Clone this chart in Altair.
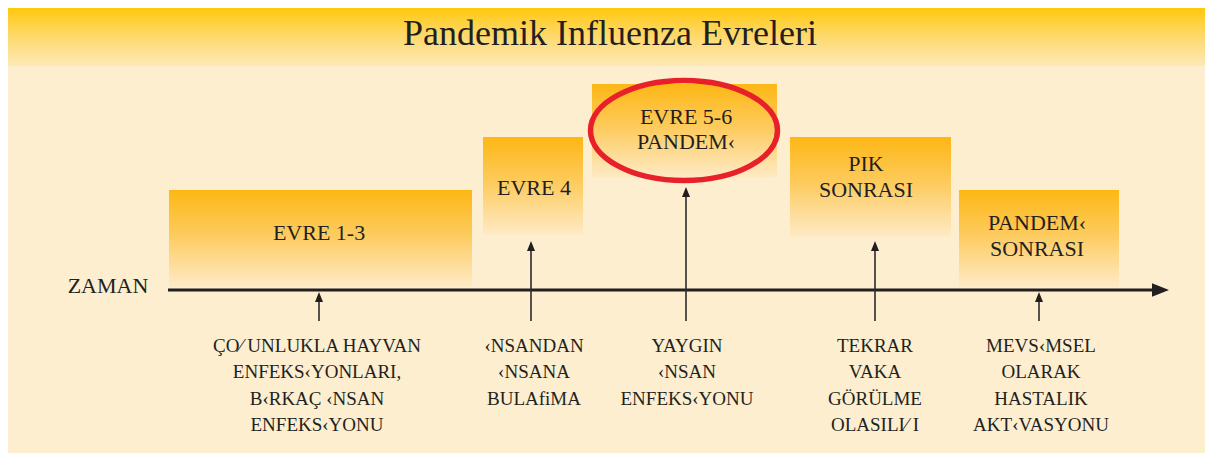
import altair as alt
import pandas as pd

# ---------------- content ----------------
TITLE = "Pandemik Influenza Evreleri"
AXIS_LABEL = "ZAMAN"
phase_labels = [
    "EVRE 1-3",
    "EVRE 4",
    "EVRE 5-6\nPANDEM‹",
    "PIK\nSONRASI",
    "PANDEM‹\nSONRASI",
]
phase_descriptions = [
    "ÇO⁄ UNLUKLA HAYVAN\nENFEKS‹YONLARI,\nB‹RKAÇ ‹NSAN\nENFEKS‹YONU",
    "‹NSANDAN\n‹NSANA\nBULAfiMA",
    "YAYGIN\n‹NSAN\nENFEKS‹YONU",
    "TEKRAR\nVAKA\nGÖRÜLME\nOLASILI⁄ I",
    "MEVS‹MSEL\nOLARAK\nHASTALIK\nAKT‹VASYONU",
]
highlighted_phase = 2

# ---------------- layout (pixel positions of the diagram) ----------------
box_x0 = [169, 483, 592, 790, 959]
box_x1 = [472, 583, 777, 951, 1119]
box_y0 = [190, 137, 84, 137, 190]
box_y1 = [287, 235, 178, 237, 287]
label_cx = [319, 534, 686, 866, 1037]
label_cy = [233, 188, 117, 164, 223]
label_step = 26
arrow_x = [319, 531, 686, 875, 1039]
arrow_tip = [292, 241, 187, 241, 292]
arrow_base = 321
desc_cx = [317, 534, 687, 875, 1041]
desc_y0 = 346
desc_step = 26.3
axis_y = 290
axis_x0, axis_x1 = 168, 1169

BG = "#FDEED0"
INK = "#231F20"
FONT = "Liberation Serif"

xs = alt.Scale(domain=[8, 1205], nice=False, zero=False)
ys = alt.Scale(domain=[453, 8], nice=False, zero=False)


def X(f="x"):
    return alt.X(f"{f}:Q", scale=xs, axis=None)


def Y(f="y"):
    return alt.Y(f"{f}:Q", scale=ys, axis=None)


# header band
header_df = pd.DataFrame({"x": [8], "x2": [1205], "y": [8], "y2": [66]})
header = alt.Chart(header_df).mark_rect(
    color=alt.Gradient(
        gradient="linear", x1=0, x2=0, y1=0, y2=1,
        stops=[alt.GradientStop(color="#FFC80C", offset=0),
               alt.GradientStop(color="#FED866", offset=0.45),
               alt.GradientStop(color="#FDE9B6", offset=1)],
    )
).encode(x=X(), x2="x2:Q", y=Y(), y2="y2:Q")

title_df = pd.DataFrame({"x": [610], "y": [34], "t": [TITLE]})
title = alt.Chart(title_df).mark_text(
    font=FONT, fontSize=36, color=INK, baseline="middle", align="center"
).encode(x=X(), y=Y(), text="t:N")

# phase boxes
box_df = pd.DataFrame({"x": box_x0, "x2": box_x1, "y": box_y0, "y2": box_y1})
boxes = alt.Chart(box_df).mark_rect(
    color=alt.Gradient(
        gradient="linear", x1=0, x2=0, y1=0, y2=1,
        stops=[alt.GradientStop(color="#FDB715", offset=0),
               alt.GradientStop(color="#FDCB5C", offset=0.45),
               alt.GradientStop(color="#FEEAC6", offset=1)],
    )
).encode(x=X(), x2="x2:Q", y=Y(), y2="y2:Q")

# box labels
rows = []
for i, lab in enumerate(phase_labels):
    for j, line in enumerate(lab.split("\n")):
        rows.append({"x": label_cx[i], "y": label_cy[i] + j * (25 if i == 2 else label_step), "t": line})
labels = alt.Chart(pd.DataFrame(rows)).mark_text(
    font=FONT, fontSize=22, color=INK, baseline="middle", align="center"
).encode(x=X(), y=Y(), text="t:N")

# highlight ellipse
r = 0.535
k = 0.5523
ell_path = (
    f"M-1,0C-1,{-k*r:.4f},{-k:.4f},{-r},0,{-r}"
    f"C{k:.4f},{-r},1,{-k*r:.4f},1,0"
    f"C1,{k*r:.4f},{k:.4f},{r},0,{r}"
    f"C{-k:.4f},{r},-1,{k*r:.4f},-1,0Z"
)
ell_df = pd.DataFrame({"x": [(box_x0[highlighted_phase] + box_x1[highlighted_phase]) / 2 - 0.5], "y": [130.5]})
ellipse = alt.Chart(ell_df).mark_point(
    shape=ell_path, size=187 ** 2, filled=False, stroke="#E8202A", strokeWidth=5.5, opacity=1
).encode(x=X(), y=Y())

# time axis
axis_df = pd.DataFrame({"x": [axis_x0], "x2": [axis_x1 - 12], "y": [axis_y]})
axis_line = alt.Chart(axis_df).mark_rule(color=INK, strokeWidth=3).encode(
    x=X(), x2="x2:Q", y=Y()
)
axhead_df = pd.DataFrame({"x": [axis_x1 - 8.5], "y": [axis_y]})
axis_head = alt.Chart(axhead_df).mark_point(
    shape="M1,0L-1,-0.8L-1,0.8Z", size=17 ** 2, filled=True, color=INK, opacity=1, strokeWidth=0
).encode(x=X(), y=Y())

zaman_df = pd.DataFrame({"x": [108], "y": [286], "t": [AXIS_LABEL]})
zaman = alt.Chart(zaman_df).mark_text(
    font=FONT, fontSize=22, color=INK, baseline="middle", align="center"
).encode(x=X(), y=Y(), text="t:N")

# arrows
arr_df = pd.DataFrame({"x": arrow_x, "y": [arrow_base] * 5, "y2": [t + 6 for t in arrow_tip]})
arrows = alt.Chart(arr_df).mark_rule(color="#2B2B2B", strokeWidth=1.6).encode(
    x=X(), y=Y(), y2="y2:Q"
)
head_df = pd.DataFrame({"x": arrow_x, "y": [t + 5 for t in arrow_tip]})
heads = alt.Chart(head_df).mark_point(
    shape="M0,-1L0.8,1L-0.8,1Z", size=100, filled=True, color=INK, opacity=1, strokeWidth=0
).encode(x=X(), y=Y())

# descriptions
drows = []
for i, d in enumerate(phase_descriptions):
    for j, line in enumerate(d.split("\n")):
        drows.append({"x": desc_cx[i], "y": desc_y0 + j * desc_step, "t": line})
descs = alt.Chart(pd.DataFrame(drows)).mark_text(
    font=FONT, fontSize=19, color=INK, baseline="middle", align="center"
).encode(x=X(), y=Y(), text="t:N")

chart = alt.layer(
    header, title, boxes, labels, ellipse, axis_line, axis_head, zaman, arrows, heads, descs
).properties(
    width=1197, height=445, background=BG, padding=0,
    autosize=alt.AutoSizeParams(type="none"),
).configure_view(stroke=None)

chart.save("out.html", embed_options={"renderer": "svg", "actions": False})
